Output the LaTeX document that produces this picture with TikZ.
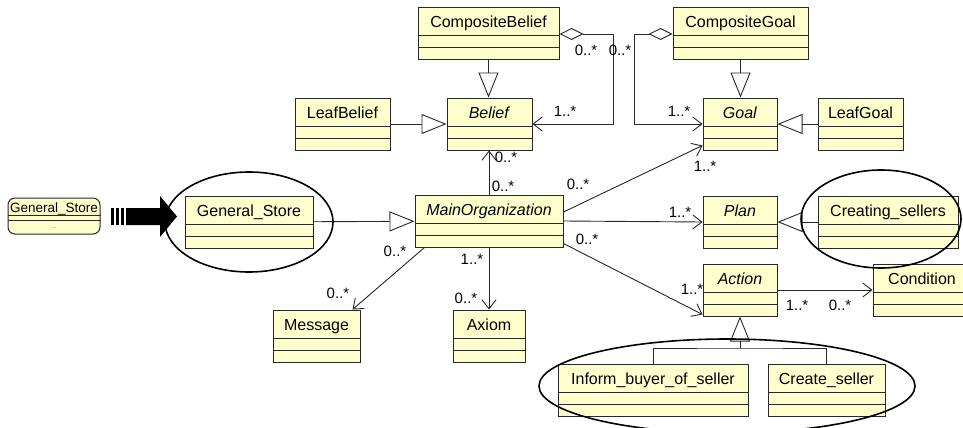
\documentclass[tikz,border=0pt]{standalone}
\usepackage{fontspec}
\setmainfont{Liberation Sans}
\usetikzlibrary{arrows.meta}
\definecolor{classfill}{RGB}{255,255,206}
\definecolor{edgecol}{RGB}{40,40,40}
\tikzset{
  classbox/.style={draw=edgecol, fill=classfill, line width=1pt, inner xsep=0pt, inner ysep=4pt,
    text height=16pt, text depth=28pt, font=\fontsize{16}{18}\selectfont,
    path picture={\draw[edgecol, line width=1pt]
      ([yshift=-28pt]path picture bounding box.north west) -- ([yshift=-28pt]path picture bounding box.north east)
      ([yshift=-40pt]path picture bounding box.north west) -- ([yshift=-40pt]path picture bounding box.north east);}},
  mult/.style={inner sep=0pt, font=\fontsize{15}{16}\selectfont},
  gen/.style={draw=edgecol, line width=0.9pt, -{Triangle[open, length=25pt, width=20pt]}},
  assoc/.style={draw=edgecol, line width=0.9pt, -{Straight Barb[length=9pt, width=14pt]}},
  agg/.style={draw=edgecol, line width=0.9pt, {Diamond[open, length=24pt, width=12pt]}-{Straight Barb[length=9pt, width=14pt]}},
  ring/.style={draw=black, line width=1.6pt}
}
\begin{document}
\begin{tikzpicture}[x=1pt, y=-1pt]
  \fill[white] (0,0) rectangle (963,428);
  \useasboundingbox (0,0) rectangle (963,428);
  \clip (0,0) rectangle (963,428);

  % classes: name / x / y / width / label
  \foreach \n/\x/\y/\w/\t in {
      compbelief/488.5/34/141/CompositeBelief,
      compgoal/740.5/34/135/CompositeGoal,
      leafbelief/342.5/124/95/LeafBelief,
      belief/489.5/124/85/\textit{Belief},
      goal/740/124/74/\textit{Goal},
      leafgoal/860.5/124/85/LeafGoal,
      store/249/222/128/General\_Store,
      mainorg/489/221/148/\textit{MainOrganization},
      plan/740/222/74/\textit{Plan},
      creating/888/222/140/Creating\_sellers,
      action/740/290/74/\textit{Action},
      condition/922/290/98/Condition,
      message/316.5/336/87/Message,
      axiom/489/336/72/Axiom,
      inform/653/390/190/Inform\_buyer\_of\_seller,
      create/826.5/390/117/Create\_seller} {
    \node[classbox, minimum width=\w pt] (\n) at (\x,\y) {\t};
  }

  % generalizations
  \draw[gen] (compbelief.south) -- (compbelief.south |- belief.north);
  \draw[gen] (leafbelief) -- (belief);
  \draw[gen] (compgoal.south) -- (compgoal.south |- goal.north);
  \draw[gen] (leafgoal) -- (goal);
  \draw[gen] (store) -- (mainorg);
  \draw[gen] (creating) -- (plan);
  \coordinate (actjoin) at (740,348);
  \draw[gen] (actjoin) -- (action.south);
  \draw[draw=edgecol, line width=0.9pt] (inform.north) |- (actjoin) -| (create.north);

  % aggregations and associations
  \draw[agg] (compbelief.east) -- ++(54,0) |- (belief.east);
  \draw[agg] (compgoal.west) -- ++(-38,0) |- (goal.west);
  \draw[assoc] (mainorg.north) -- (mainorg.north |- belief.south);
  \draw[assoc] ([yshift=9pt]mainorg.east) -- ([yshift=5pt]goal.south west);
  \draw[assoc] (mainorg.east) -- (plan.west);
  \draw[assoc] ([yshift=4pt]mainorg.south east) -- ([yshift=2pt]action.south west);
  \draw[assoc] ([xshift=10pt]mainorg.south west) -- ([xshift=-8pt]message.north east);
  \draw[assoc] (mainorg.south) -- (mainorg.south |- axiom.north);
  \draw[assoc] (action) -- (condition);

  % multiplicities
  \foreach \t/\x/\y [count=\k] in {
      {0..*}/586/50, {0..*}/620/50, {1..*}/565/111, {1..*}/679/111,
      {0..*}/506/157, {0..*}/503/186, {0..*}/578/184, {1..*}/705/166,
      {1..*}/680/212, {0..*}/587/239, {1..*}/692/289, {1..*}/797/305,
      {0..*}/840/305, {0..*}/395/251, {0..*}/338/293, {1..*}/472/259,
      {0..*}/466/298} {
    \node[mult] (mult\k) at (\x,\y) {\t};
  }

  % small class icon and the big arrow
  \node[draw=edgecol, fill=classfill, line width=1pt, rounded corners=7pt,
        minimum width=92pt, minimum height=36pt] (icon) at (54,216) {};
  \node[inner sep=0pt, font=\fontsize{13.5}{14}\selectfont] (iconname) at (54,209) {General\_Store};
  \draw[edgecol, line width=0.9pt] ([yshift=-18pt]icon.north west) -- ([yshift=-18pt]icon.north east)
                                   ([yshift=-23pt]icon.north west) -- ([yshift=-23pt]icon.north east);
  \node[inner sep=0pt, font=\scriptsize, text=gray] (icondots) at (54,228) {...};
  \foreach \bx in {111,116,121}
    \fill (\bx,208) rectangle ++(3,17);
  \fill (126,208) -- (160,208) -- (160,196) -- (177,216.5) -- (160,237) -- (160,225) -- (126,225) -- cycle;

  % highlight rings
  \draw[ring] (249,222) ellipse [x radius=84pt, y radius=50pt];
  \draw[ring] (881,219) ellipse [x radius=80pt, y radius=49pt];
  \draw[ring] (727,386) ellipse [x radius=188pt, y radius=47pt];
\end{tikzpicture}
\end{document}
